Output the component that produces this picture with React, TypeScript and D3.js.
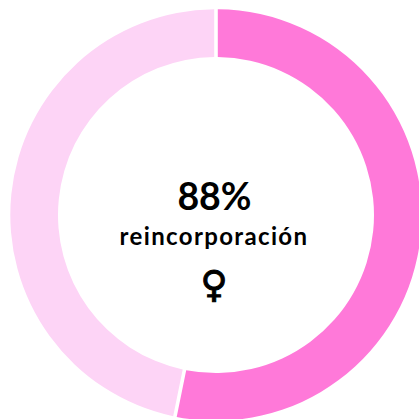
import React from "react";
import * as d3 from "d3";

const categories = ["A", "B"];
const values = [53.2, 46.8];
const colors = ["#ff79d9", "#fdd4f6"];
const centerValue = "88%";
const centerLabel = "reincorporación";
const symbol = "♀";

export default function App() {
  const size = 419;
  const cx = 216;
  const cy = 215;
  const pie = d3.pie<number>().sort(null)(values);
  const arc = d3
    .arc<d3.PieArcDatum<number>>()
    .innerRadius(158)
    .outerRadius(205.7)
    .padAngle(3.6 / 206)
    .padRadius(206);
  return (
    <svg width={size} height={size} style={{ position: "fixed", left: 0, top: 0, background: "#fff" }}>
      <g transform={`translate(${cx},${cy})`}>
        {pie.map((d, i) => (
          <path key={categories[i]} d={arc(d) ?? ""} fill={colors[i]} />
        ))}
      </g>
      <g textAnchor="middle" fill="#000" fontFamily="Lato, sans-serif" fontWeight={700}>
        <text x={214.5} y={210} fontSize={37.5}>{centerValue}</text>
        <text x={214} y={245} fontSize={24} letterSpacing={1.35}>{centerLabel}</text>
        <text x={214} y={297} fontSize={37} fontFamily="DejaVu Sans" fontWeight={700} stroke="#000" strokeWidth={1}>{symbol}</text>
      </g>
    </svg>
  );
}
